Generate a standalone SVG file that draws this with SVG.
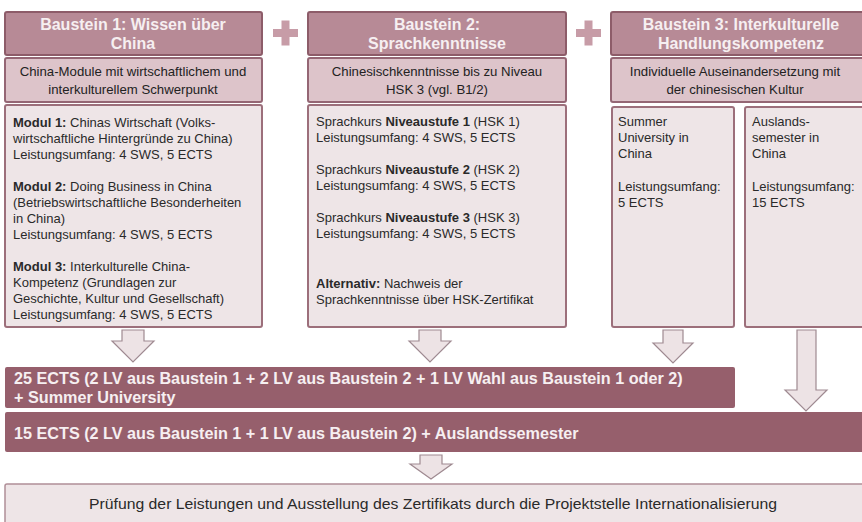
<svg xmlns="http://www.w3.org/2000/svg" width="862" height="522" viewBox="0 0 862 522">
<style>
.hdr{fill:#b78a96;stroke:#8d5c69;stroke-width:2}
.sub{fill:#ddc4ca;stroke:#946674;stroke-width:2}
.box{fill:#eee5e7;stroke:#9c6f7b;stroke-width:2}
.bar{fill:#965f6c}
.arr{fill:#ede3e5;stroke:#9f8a91;stroke-width:1.2}
.plus{fill:#c79ca7}
.ht{font-family:"Liberation Sans",Arial,sans-serif;font-size:16px;font-weight:bold;fill:#f6eff1;text-anchor:middle}
.st{font-family:"Liberation Sans",Arial,sans-serif;font-size:13.2px;fill:#222;text-anchor:middle}
.ct{font-family:"Liberation Sans",Arial,sans-serif;font-size:13px;fill:#2a2a2a}
.bt{font-family:"Liberation Sans",Arial,sans-serif;font-size:16.2px;font-weight:bold;fill:#f6eff1}
.ft{font-family:"Liberation Sans",Arial,sans-serif;font-size:14.5px;fill:#2a2a2a;text-anchor:middle}
.b{font-weight:bold}
</style>
<rect width="862" height="522" fill="#ffffff"/>

<g id="baustein1">
<rect class="hdr" x="5" y="12" width="257" height="43" rx="2"/>
<text class="ht" x="133" y="30">Baustein 1: Wissen über</text>
<text class="ht" x="133" y="49">China</text>
</g>
<g id="sub1">
<rect class="sub" x="5" y="58" width="257" height="44" rx="2"/>
<text class="st" x="133" y="76">China-Module  mit wirtschaftlichem und</text>
<text class="st" x="133" y="94">interkulturellem  Schwerpunkt</text>
</g>
<g id="content1">
<rect class="box" x="5" y="105" width="257" height="222" rx="2"/>
<text class="ct" x="13" y="127"><tspan class="b">Modul 1:</tspan> Chinas Wirtschaft (Volks-</text>
<text class="ct" x="13" y="143">wirtschaftliche Hintergründe  zu China)</text>
<text class="ct" x="13" y="159">Leistungsumfang:  4 SWS, 5 ECTS</text>
<text class="ct" x="13" y="191"><tspan class="b">Modul 2:</tspan> Doing Business in China</text>
<text class="ct" x="13" y="207">(Betriebswirtschaftliche  Besonderheiten</text>
<text class="ct" x="13" y="223">in China)</text>
<text class="ct" x="13" y="239">Leistungsumfang:  4 SWS, 5 ECTS</text>
<text class="ct" x="13" y="271"><tspan class="b">Modul 3:</tspan> Interkulturelle  China-</text>
<text class="ct" x="13" y="287">Kompetenz (Grundlagen  zur</text>
<text class="ct" x="13" y="303">Geschichte, Kultur und Gesellschaft)</text>
<text class="ct" x="13" y="319">Leistungsumfang:  4 SWS, 5 ECTS</text>
</g>

<g id="plus1"><rect class="plus" x="273" y="29" width="25" height="8"/><rect class="plus" x="281.5" y="20.5" width="8" height="25"/></g>
<g id="plus2"><rect class="plus" x="576" y="29" width="25" height="8"/><rect class="plus" x="584.5" y="20.5" width="8" height="25"/></g>

<g id="baustein2">
<rect class="hdr" x="308" y="12" width="258" height="43" rx="2"/>
<text class="ht" x="437" y="30">Baustein 2:</text>
<text class="ht" x="437" y="49">Sprachkenntnisse</text>
</g>
<g id="sub2">
<rect class="sub" x="308" y="58" width="258" height="44" rx="2"/>
<text class="st" x="437" y="76">Chinesischkenntnisse  bis zu Niveau</text>
<text class="st" x="437" y="94">HSK 3 (vgl.  B1/2)</text>
</g>
<g id="content2">
<rect class="box" x="308" y="105" width="258" height="222" rx="2"/>
<text class="ct" x="316" y="126">Sprachkurs <tspan class="b">Niveaustufe 1</tspan> (HSK 1)</text>
<text class="ct" x="316" y="142">Leistungsumfang:  4 SWS, 5 ECTS</text>
<text class="ct" x="316" y="174">Sprachkurs <tspan class="b">Niveaustufe 2</tspan> (HSK 2)</text>
<text class="ct" x="316" y="190">Leistungsumfang:  4 SWS, 5 ECTS</text>
<text class="ct" x="316" y="222">Sprachkurs <tspan class="b">Niveaustufe 3</tspan> (HSK 3)</text>
<text class="ct" x="316" y="238">Leistungsumfang:  4 SWS, 5 ECTS</text>
<text class="ct" x="316" y="288"><tspan class="b">Alternativ:</tspan> Nachweis  der</text>
<text class="ct" x="316" y="304">Sprachkenntnisse  über HSK-Zertifikat</text>
</g>

<g id="baustein3">
<rect class="hdr" x="611" y="12" width="262" height="43" rx="2"/>
<text class="ht" x="741" y="30">Baustein 3: Interkulturelle</text>
<text class="ht" x="741" y="49">Handlungskompetenz</text>
</g>
<g id="sub3">
<rect class="sub" x="611" y="58" width="262" height="44" rx="2"/>
<text class="st" x="735" y="76">Individuelle  Auseinandersetzung  mit</text>
<text class="st" x="735" y="94">der chinesischen Kultur</text>
</g>
<g id="summer">
<rect class="box" x="612" y="107" width="122" height="220" rx="2"/>
<text class="ct" x="618" y="126">Summer</text>
<text class="ct" x="618" y="142">University  in</text>
<text class="ct" x="618" y="158">China</text>
<text class="ct" x="618" y="191">Leistungsumfang:</text>
<text class="ct" x="618" y="207">5 ECTS</text>
</g>
<g id="ausland">
<rect class="box" x="745" y="107" width="125" height="220" rx="2"/>
<text class="ct" x="752" y="126">Auslands-</text>
<text class="ct" x="752" y="142">semester in</text>
<text class="ct" x="752" y="158">China</text>
<text class="ct" x="752" y="191">Leistungsumfang:</text>
<text class="ct" x="752" y="207">15 ECTS</text>
</g>

<g id="connectors">
<polygon class="arr" points="122,330 144,330 144,341 154,341 133,362 112,341 122,341"/>
<polygon class="arr" points="419,330 441,330 441,341 451,341 430,362 409,341 419,341"/>
<polygon class="arr" points="663,330 683,330 683,343 693,343 673,363 653,343 663,343"/>
<polygon class="arr" points="797,330 816,330 816,390 827,390 806,411 785,390 797,390"/>
<polygon class="arr" points="420,455 442,455 442,464 452,464 431,479 410,464 420,464"/>
</g>

<g id="bar25">
<rect class="bar" x="5" y="367" width="730" height="41" rx="2"/>
<text class="bt" x="14" y="384">25 ECTS (2 LV aus Baustein 1 + 2 LV aus Baustein 2 + 1 LV Wahl  aus Baustein 1 oder 2)</text>
<text class="bt" x="14" y="403">+ Summer University</text>
</g>
<g id="bar15">
<rect class="bar" x="5" y="412" width="870" height="40" rx="2"/>
<text class="bt" x="14" y="439">15 ECTS (2 LV aus Baustein 1 + 1 LV aus Baustein 2) + Auslandssemester</text>
</g>
<g id="pruefung">
<rect x="5" y="484" width="870" height="50" rx="2" fill="#eee5e7" stroke="#b08f98" stroke-width="1.5"/>
<text class="ft" x="433" y="509" textLength="688" lengthAdjust="spacingAndGlyphs">Prüfung  der Leistungen und Ausstellung  des Zertifikats durch die Projektstelle Internationalisierung</text>
</g>
</svg>
